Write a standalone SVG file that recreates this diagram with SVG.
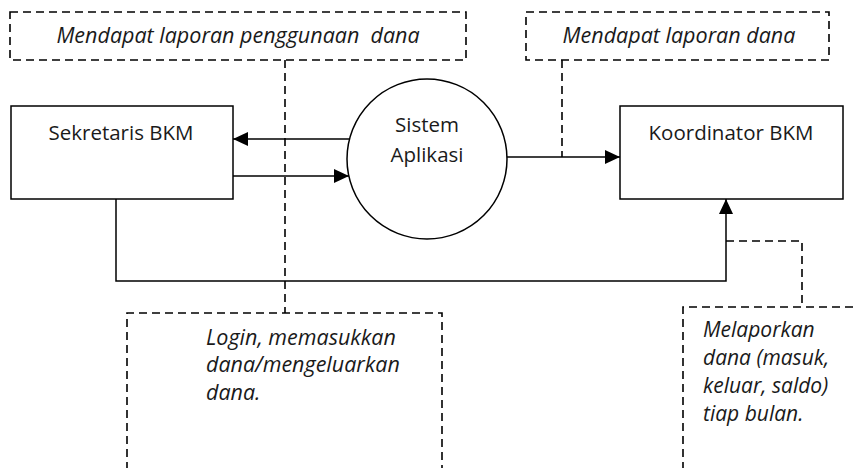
<svg xmlns="http://www.w3.org/2000/svg" width="853" height="468" viewBox="0 0 853 468">
  <style>
    .box { fill: #ffffff; stroke: #000000; stroke-width: 1.5; }
    .line { fill: none; stroke: #000000; stroke-width: 1.5; }
    .dash { fill: none; stroke: #000000; stroke-width: 1.6; stroke-dasharray: 8 5; }
    .lbl { font-family: "Open Sans", "Noto Sans", sans-serif; font-size: 20.5px; fill: #1a1a1a; }
    .note { font-family: "Open Sans", "Noto Sans", sans-serif; font-size: 21.5px; font-style: italic; fill: #1a1a1a; white-space: pre; }
    .note2 { font-family: "Open Sans", "Noto Sans", sans-serif; font-size: 21px; font-style: italic; fill: #1a1a1a; }
  </style>
  <defs>
    <marker id="arrow" viewBox="0 0 15 14" refX="15" refY="7" markerWidth="15" markerHeight="14" markerUnits="userSpaceOnUse" orient="auto">
      <path d="M0,0 L15,7 L0,14 Z" fill="#000000"/>
    </marker>
  </defs>
  <rect width="853" height="468" fill="#ffffff"/>

  <g id="connectors">
    <line class="line" x1="349.5" y1="139" x2="233" y2="139" marker-end="url(#arrow)"/>
    <line class="line" x1="233" y1="176" x2="349" y2="176" marker-end="url(#arrow)"/>
    <line class="line" x1="507" y1="157" x2="620" y2="157" marker-end="url(#arrow)"/>
    <polyline class="line" points="116,199 116,281 726,281 726,199" marker-end="url(#arrow)"/>
    <line class="dash" x1="285" y1="60" x2="285" y2="313"/>
    <line class="dash" x1="562" y1="60" x2="562" y2="157"/>
    <polyline class="dash" points="726,241 802,241 802,307"/>
  </g>

  <g id="note-penggunaan">
    <rect class="dash" x="10" y="12" width="456" height="48" fill="none"/>
    <text class="note" x="238" y="43" text-anchor="middle" xml:space="preserve">Mendapat laporan penggunaan  dana</text>
  </g>

  <g id="note-laporan">
    <rect class="dash" x="526" y="12" width="303" height="48" fill="none"/>
    <text class="note" x="679" y="43" text-anchor="middle">Mendapat laporan dana</text>
  </g>

  <g id="sekretaris">
    <rect class="box" x="11" y="106" width="222" height="93"/>
    <text class="lbl" x="121" y="140" text-anchor="middle">Sekretaris BKM</text>
  </g>

  <g id="sistem">
    <circle class="box" cx="427" cy="159" r="80"/>
    <text class="lbl" x="427" y="132" text-anchor="middle">Sistem</text>
    <text class="lbl" x="427" y="162" text-anchor="middle">Aplikasi</text>
  </g>

  <g id="koordinator">
    <rect class="box" x="620" y="106" width="223" height="93"/>
    <text class="lbl" x="731" y="140" text-anchor="middle">Koordinator BKM</text>
  </g>

  <g id="note-login">
    <polyline class="dash" points="127,470 127,313 442,313 442,470"/>
    <text class="note" x="206" y="345">Login, memasukkan</text>
    <text class="note" x="206" y="372">dana/mengeluarkan</text>
    <text class="note" x="206" y="400">dana.</text>
  </g>

  <g id="note-melaporkan">
    <polyline class="dash" points="683,470 683,307 860,307"/>
    <text class="note2" x="703" y="337">Melaporkan</text>
    <text class="note2" x="703" y="365">dana (masuk,</text>
    <text class="note2" x="703" y="393">keluar, saldo)</text>
    <text class="note2" x="703" y="421">tiap bulan.</text>
  </g>
</svg>
